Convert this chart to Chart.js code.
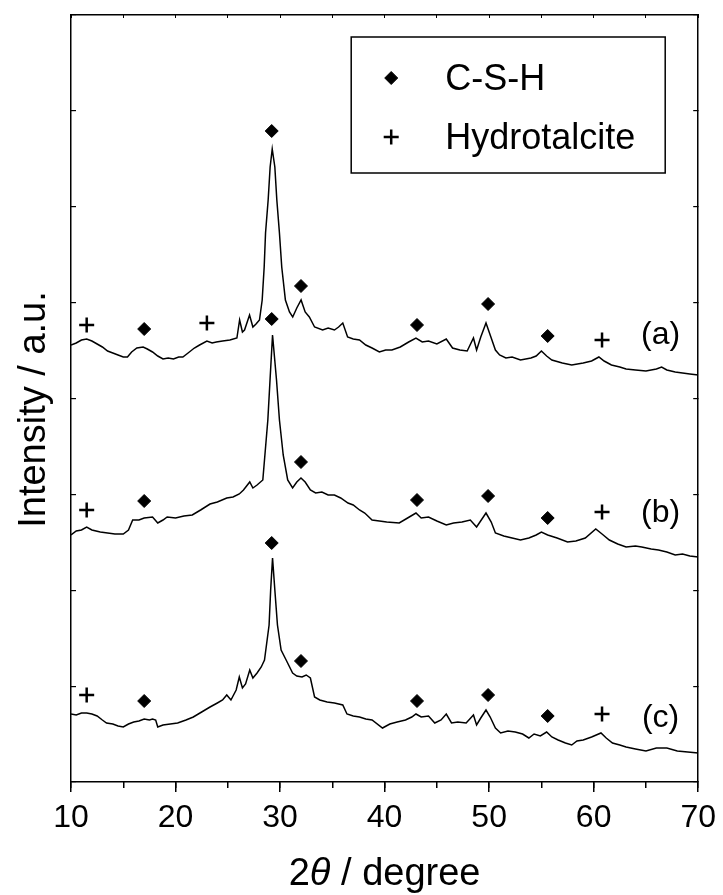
<!DOCTYPE html>
<html>
<head>
<meta charset="utf-8">
<script src="https://cdn.jsdelivr.net/npm/chart.js@4.4.1/dist/chart.umd.min.js"></script>
<style>
html,body{margin:0;padding:0;background:#fff;}
#wrap{width:723px;height:895px;position:relative;}
</style>
</head>
<body>
<div id="wrap"><canvas id="xrd"></canvas></div>
<script>
// [2theta (degree), intensity (a.u.)]
const patternA = [[10.0,437],[10.5,439],[11.0,442],[11.5,443],[12.0,441],[12.5,438],[13.0,435],[13.5,431],[14.0,429],[14.5,427],[15.0,425],[15.4,425],[15.8,430],[16.3,434],[16.9,435],[17.3,433],[17.8,430],[18.3,426],[18.8,423],[19.3,424],[19.8,423],[20.3,425],[20.7,425],[21.2,429],[21.8,434],[22.3,437],[23.0,441],[23.5,439],[23.9,440],[24.5,441],[25.2,442],[25.87,444],[26.13,462],[26.4,450],[26.6,452],[27.08,467],[27.4,455],[27.7,458],[28.03,462],[28.29,482],[28.48,515],[28.61,549],[28.86,582],[29.05,615],[29.25,633],[29.5,615],[29.69,582],[29.94,549],[30.16,515],[30.51,482],[30.9,470],[31.21,465],[31.6,474],[32.01,482],[32.4,470],[32.8,465],[33.3,455],[34.07,452],[34.6,454],[35.2,452],[35.6,455],[36.0,459],[36.46,445],[37.0,443],[37.6,442],[38.2,437],[38.8,434],[39.5,430],[40.1,432],[40.7,432],[41.5,435],[42.3,440],[43.0,444],[43.6,440],[44.2,441],[45.0,438],[45.9,443],[46.5,434],[47.2,432],[47.9,431],[48.5,444],[48.8,432],[49.2,445],[49.7,459],[50.2,444],[50.6,432],[51.0,427],[51.6,424],[52.2,425],[53.0,422],[54.0,424],[54.5,426],[55.0,431],[55.5,426],[56.0,422],[57.0,419],[57.9,417],[59.0,419],[59.8,421],[60.5,425],[61.0,421],[61.7,417],[62.5,415],[63.1,413],[64.0,412],[65.0,411],[66.0,413],[66.5,415],[67.0,412],[67.8,410],[68.5,409],[69.2,408],[70.0,407]];

const patternB = [[10.0,247],[10.5,251],[11.0,252],[11.5,255],[12.0,252],[12.8,250],[13.5,249],[14.2,248],[15.0,248],[15.5,252],[15.9,262],[16.5,262],[17.0,264],[17.8,265],[18.3,259],[18.8,262],[19.2,265],[20.0,264],[20.8,266],[21.6,267],[22.4,272],[23.3,278],[24.0,280],[24.9,284],[25.5,285],[26.1,288],[26.5,292],[27.1,300],[27.4,294],[27.8,297],[28.35,302],[28.83,362],[29.04,402],[29.28,447],[29.66,402],[29.94,362],[30.3,327],[30.73,302],[31.2,294],[31.6,300],[32.0,304],[32.4,300],[32.9,292],[33.4,289],[34.0,290],[34.6,287],[35.2,287],[35.8,284],[36.5,279],[37.0,277],[37.6,272],[38.1,269],[38.8,262],[39.5,261],[40.2,260],[41.4,259],[42.2,264],[43.0,269],[43.5,264],[44.2,265],[45.0,261],[45.9,257],[46.6,259],[47.4,260],[48.2,262],[48.8,255],[49.7,269],[50.2,260],[50.6,249],[51.4,246],[52.2,244],[53.0,242],[53.8,244],[54.5,247],[55.0,250],[55.6,247],[56.5,244],[57.5,240],[58.3,241],[59.2,244],[60.2,253],[60.8,248],[61.5,242],[62.3,238],[63.1,235],[64.0,236],[64.6,235],[65.5,233],[66.2,232],[67.0,230],[67.8,227],[68.5,228],[69.2,226],[70.0,225]];

const patternC = [[10.0,68],[10.5,67],[11.0,69],[11.5,69],[12.0,68],[12.5,66],[13.0,62],[13.4,59],[14.0,58],[14.5,56],[15.0,55],[15.5,58],[16.0,60],[16.5,61],[17.0,63],[17.5,62],[17.8,63],[18.1,62],[18.3,55],[18.8,57],[19.5,58],[20.2,59],[21.0,62],[21.7,65],[22.5,70],[23.3,75],[24.0,79],[24.5,82],[24.9,87],[25.3,82],[25.8,92],[26.1,105],[26.4,94],[26.7,98],[27.1,112],[27.4,104],[27.8,109],[28.2,115],[28.51,122],[28.95,157],[29.1,192],[29.28,224],[29.5,192],[29.75,157],[30.1,132],[30.58,122],[31.2,109],[31.6,106],[32.1,105],[32.5,107],[32.9,104],[33.3,85],[33.8,82],[34.5,80],[35.2,79],[36.0,77],[36.4,68],[37.0,66],[37.6,65],[38.2,63],[38.8,62],[39.8,54],[40.5,58],[41.2,60],[42.0,62],[42.6,65],[43.0,68],[43.5,65],[44.2,66],[44.8,59],[45.4,62],[45.9,68],[46.4,59],[47.0,60],[47.8,59],[48.5,67],[48.8,57],[49.2,64],[49.7,72],[50.1,65],[50.6,54],[51.1,49],[51.8,51],[52.5,50],[53.2,48],[53.8,44],[54.3,48],[54.9,46],[55.5,50],[56.0,45],[56.6,42],[57.3,39],[57.9,37],[58.4,41],[59.0,42],[59.8,45],[60.7,49],[61.2,44],[61.8,39],[62.5,37],[63.1,35],[64.0,33],[65.0,31],[66.0,34],[67.0,34],[68.0,31],[69.0,30],[70.0,29]];

// phase markers
const cshTheta = [17.0, 29.2, 32.0, 43.1, 49.9, 55.6];
const cshA = [453, 651, 496, 457, 478, 446];
const cshB = [281, 463, 320, 282, 286, 264];
const cshC = [81, 239, 121, 81, 87, 66];

const htThetaA = [11.5, 23.0, 60.8];
const htA = [457, 459, 442];
const htThetaBC = [11.5, 60.8];
const htB = [272, 270];
const htC = [87, 68];

const patternNames = ['(a)', '(b)', '(c)'];
const nameTheta = 66.4;
const nameIntensity = [447, 269, 64];

const xTitle = [['2', ''], ['θ', 'italic '], [' / degree', '']];
const yTitle = 'Intensity / a.u.';

const xMin = 10, xMax = 70;
const yMax = 767;
const yTickCount = 8;

const FONT = '"Liberation Sans", Arial, sans-serif';
Chart.defaults.font.family = FONT;
Chart.defaults.color = '#000';

const toPts = arr => arr.map(p => ({x: p[0], y: p[1]}));
const zip = (xs, ys) => xs.map((v, i) => ({x: v, y: ys[i]}));

function curve(pts) {
    return {data: toPts(pts), showLine: true, borderColor: '#000', borderWidth: 1.5,
        pointRadius: 0, pointHoverRadius: 0, tension: 0, fill: false};
}

const cshPoints = [].concat(zip(cshTheta, cshA), zip(cshTheta, cshB), zip(cshTheta, cshC));
const htPoints = [].concat(zip(htThetaA, htA), zip(htThetaBC, htB), zip(htThetaBC, htC));

const yTicks = scale => {
    scale.ticks = [];
    for (let i = 0; i <= yTickCount; i++) scale.ticks.push({value: i * yMax / yTickCount});
};

// axis titles (italic theta), (a)/(b)/(c) names and the boxed phase key
const annotate = {
    id: 'annotate',
    afterDatasetsDraw(chart) {
        const {ctx, chartArea, scales: {x, y}} = chart;
        ctx.save();
        ctx.fillStyle = '#000';
        ctx.strokeStyle = '#000';

        // x title
        ctx.textAlign = 'left';
        ctx.textBaseline = 'alphabetic';
        let total = 0;
        xTitle.forEach(([t, st]) => { ctx.font = st + '38px ' + FONT; total += ctx.measureText(t).width; });
        let cx = (chartArea.left + chartArea.right) / 2 - total / 2;
        xTitle.forEach(([t, st]) => {
            ctx.font = st + '38px ' + FONT;
            ctx.fillText(t, cx, chartArea.bottom + 103);
            cx += ctx.measureText(t).width;
        });

        // y title
        ctx.save();
        ctx.translate(chartArea.left - 26, (chartArea.top + chartArea.bottom) / 2 + 11);
        ctx.rotate(-Math.PI / 2);
        ctx.textAlign = 'center';
        ctx.font = '38px ' + FONT;
        ctx.fillText(yTitle, 0, 0);
        ctx.restore();

        ctx.font = '32px ' + FONT;
        ctx.textAlign = 'center';
        ctx.textBaseline = 'middle';
        patternNames.forEach((n, i) => {
            ctx.fillText(n, x.getPixelForValue(nameTheta), y.getPixelForValue(nameIntensity[i]));
        });

        const bx = chartArea.right - 347, by = chartArea.top + 22;
        ctx.lineWidth = 1.5;
        ctx.strokeRect(bx, by, 314, 136);
        const keys = chart.data.datasets.filter(d => d.keyed);
        ctx.textAlign = 'left';
        ctx.font = '36px ' + FONT;
        keys.forEach((d, i) => {
            const cy = by + 41 + i * 59;
            ctx.lineWidth = d.borderWidth;
            Chart.helpers.drawPoint(ctx, {pointStyle: d.pointStyle, radius: d.pointRadius,
                borderWidth: d.borderWidth, rotation: 0}, bx + 40, cy);
            ctx.fillText(d.label, bx + 94, cy + 2);
        });
        ctx.restore();
    }
};

new Chart(document.getElementById('xrd'), {
    type: 'scatter',
    data: {
        datasets: [
            curve(patternA),
            curve(patternB),
            curve(patternC),
            {label: 'C-S-H', keyed: true, data: cshPoints, pointStyle: 'rectRot', pointRadius: 6.5,
             pointHoverRadius: 6.5, backgroundColor: '#000', borderColor: '#000', borderWidth: 1},
            {label: 'Hydrotalcite', keyed: true, data: htPoints, pointStyle: 'cross', pointRadius: 7.5,
             pointHoverRadius: 7.5, backgroundColor: '#000', borderColor: '#000', borderWidth: 2.5}
        ]
    },
    options: {
        responsive: true,
        maintainAspectRatio: false,
        animation: false,
        events: [],
        layout: {padding: {top: 15, right: 23, left: 0, bottom: 0}},
        plugins: {legend: {display: false}, tooltip: {enabled: false}},
        scales: {
            x: {
                type: 'linear', position: 'bottom', weight: 1, min: xMin, max: xMax,
                ticks: {stepSize: 10, font: {size: 32}, color: '#000', padding: 7, maxRotation: 0},
                grid: {drawOnChartArea: false, tickLength: 10, color: '#000', lineWidth: 1.5},
                border: {color: '#000', width: 1.5},
                afterFit: s => { s.height = 113; }
            },
            xMinor: {
                type: 'linear', position: 'bottom', weight: 0, min: xMin, max: xMax,
                ticks: {display: false, stepSize: 5},
                grid: {drawOnChartArea: false, tickLength: 6, color: '#000', lineWidth: 1.5},
                border: {display: false},
                afterFit: s => { s.height = 0; }
            },
            xTop: {
                type: 'linear', position: 'top', min: xMin, max: xMax,
                ticks: {display: false, stepSize: 5},
                grid: {drawOnChartArea: false, tickLength: -3, color: '#000', lineWidth: 1},
                border: {color: '#000', width: 1.5},
                afterFit: s => { s.height = 0; }
            },
            y: {
                type: 'linear', position: 'left', min: 0, max: yMax,
                afterBuildTicks: yTicks,
                ticks: {display: false},
                grid: {drawOnChartArea: false, tickLength: -5, color: '#000', lineWidth: 1.2},
                border: {color: '#000', width: 1.5},
                afterFit: s => { s.width = 71; }
            },
            yRight: {
                type: 'linear', position: 'right', min: 0, max: yMax,
                afterBuildTicks: yTicks,
                ticks: {display: false},
                grid: {drawOnChartArea: false, tickLength: -5, color: '#000', lineWidth: 1.2},
                border: {color: '#000', width: 1.5},
                afterFit: s => { s.width = 0; }
            }
        }
    },
    plugins: [annotate]
});
</script>
</body>
</html>
